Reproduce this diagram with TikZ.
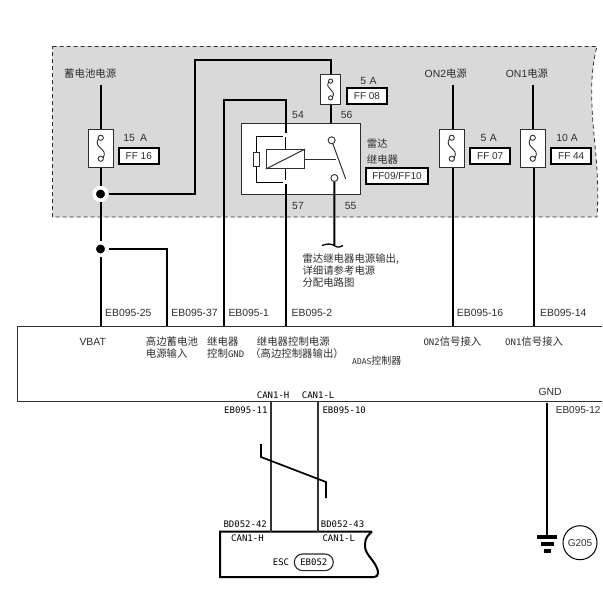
\documentclass[tikz,border=0pt]{standalone}
\usepackage{fontspec}
\setmainfont{Liberation Sans}
\setmonofont{DejaVu Sans Mono}
\newfontfamily\cjk{Noto Sans CJK SC}
\usetikzlibrary{shapes.misc}
\definecolor{panelgray}{HTML}{D9D9D9}
\definecolor{inkgray}{HTML}{2E2E2E}
\tikzset{
  x=1pt,y=-1pt,
  wire/.style={draw=black,line width=2pt},
  fuse/.style={draw=inkgray,fill=white,line width=1pt,minimum width=24.5pt,minimum height=37.5pt,inner sep=0pt},
  smallfuse/.style={fuse,minimum width=20.5pt,minimum height=30.5pt},
  tag/.style={draw=black,fill=white,line width=2pt,minimum height=16pt,inner sep=0pt,font=\fontsize{10}{10}\selectfont,text=inkgray},
  dot/.style={circle,fill=black,draw=white,line width=3.7pt,minimum size=12.6pt,inner sep=0pt},
  lab/.style={anchor=west,inner sep=0pt,text=inkgray,font=\fontsize{10.4}{10.4}\selectfont},
  mid/.style={lab,anchor=center},
  mono/.style={anchor=west,inner sep=0pt,text=black,font=\ttfamily\fontsize{9}{9}\selectfont},
  fuse s/.pic={
    \draw[draw=inkgray,line width=.9pt] (0,-10.5) circle[radius=2.6] (0,10.5) circle[radius=2.6];
    \draw[draw=inkgray,line width=.9pt] (-2.4,-9.5) .. controls (-8,0) and (8,0) .. (2.4,9.5);
  }
}
\newcommand{\zh}[1]{{\cjk #1}}
\begin{document}
\begin{tikzpicture}
\useasboundingbox (0,0) rectangle (602,607);
\fill[white] (0,0) rectangle (602,607);
% panel
\path[fill=panelgray,draw=inkgray,line width=.8pt,dash pattern=on 4pt off 3pt]
  (52.5,46.5) -- (597,46.5) .. controls (592,65) and (591,85) .. (592,105)
  .. controls (593,140) and (600,170) .. (597,217) -- (52.5,217) -- cycle;
% coordinates
\coordinate (batTop) at (100.5,85);
\coordinate (on2Top) at (453,85);
\coordinate (on1Top) at (533,85);
\coordinate (p25) at (100.5,326.5);
\coordinate (p37) at (167,326.5);
\coordinate (p1) at (223.5,326.5);
\coordinate (p57) at (285.7,326.5);
\coordinate (p16) at (452.5,326.5);
\coordinate (p14) at (533.5,326.5);
\coordinate (canH) at (270.5,401);
\coordinate (canL) at (317.5,401);
\coordinate (gndTop) at (547.3,403);
\coordinate (ec1) at (602,326.5);
\coordinate (ec2) at (17.5,326.5);
\coordinate (ec3) at (17.5,401);
\coordinate (ec4) at (602,401);
\coordinate (break) at (334.3,245);
% relay
\node[draw=inkgray,fill=white,line width=1pt,minimum width=119pt,minimum height=71pt,inner sep=0pt] (relay) at (301,159) {};
\node[draw=inkgray,line width=1pt,minimum width=38.4pt,minimum height=19pt,inner sep=0pt] (coil) at (285.5,159) {};
\draw[draw=inkgray,line width=1pt] (coil.south west) -- (coil.north east);
\node[draw=inkgray,line width=1pt,minimum width=6pt,minimum height=14.5pt,inner sep=0pt] (res) at (256.5,159.5) {};
\node[circle,draw=inkgray,line width=.9pt,minimum size=7pt,inner sep=0pt] (swA) at (331.6,140.3) {};
\node[circle,draw=inkgray,line width=.9pt,minimum size=7pt,inner sep=0pt] (swB) at (334.4,178) {};
\coordinate (armEnd) at (345.7,179);
\coordinate (armMid) at (336,159);
\draw[draw=inkgray,line width=1pt] (swA) -- (armEnd);
\draw[draw=inkgray,line width=1pt] (coil.east) -- (armMid);
\coordinate (lt) at (283,136.7);
\coordinate (lb) at (283,182);
\draw[draw=black,line width=1pt] (lt) -| (res.north);
\draw[draw=black,line width=1pt] (lb) -| (res.south);
% fuses
\node[fuse] (f16) at (100.75,148.25) {};
\pic at (f16.center) {fuse s};
\node[smallfuse] (f08) at (330.6,89.5) {};
\pic[scale=.8] at (f08.center) {fuse s};
\node[fuse] (f07) at (451.75,148.25) {};
\pic at (f07.center) {fuse s};
\node[fuse] (f44) at (532.75,148.25) {};
\pic at (f44.center) {fuse s};
% dots
\node[dot] (dA) at (100.5,194) {};
\node[dot] (dB) at (100.5,249) {};
% wires
\draw[wire] (batTop) -- (batTop |- f16.north);
\draw[wire] (f16.south -| dA) -- (dA.north);
\draw[wire] (dA.south) -- (dB.north);
\draw[wire] (dB.south) -- (p25);
\draw[wire] (dB.east) -| (p37);
\coordinate (cornerA) at (195,60);
\draw[wire] (dA.east) -| (cornerA) -| (f08.north);
\draw[wire] (f08.south) -- (f08.south |- relay.north);
\coordinate (cornerB) at (223.5,100);
\coordinate (coilGapA) at (285.7,133);
\coordinate (coilGapB) at (285.7,137);
\coordinate (coilGapC) at (285.7,180);
\coordinate (coilGapD) at (285.7,184);
\draw[wire] (p1) -- (cornerB) -| (coilGapA);
\draw[draw=black,line width=1pt] (coilGapB) -- (coilGapB |- coil.north);
\draw[draw=black,line width=1pt] (coilGapC |- coil.south) -- (coilGapC);
\draw[wire] (coilGapD) -- (p57);
\draw[wire] (swB.south) -- (break);
\draw[draw=black,line width=1.3pt] (322,245.5) .. controls (328,243) and (332,244) .. (335,246) .. controls (338,248) and (341,247) .. (343,245.5);
\draw[wire] (on2Top) -- (on2Top |- f07.north);
\draw[wire] (f07.south -| p16) -- (p16);
\draw[wire] (on1Top) -- (on1Top |- f44.north);
\draw[wire] (f44.south -| p14) -- (p14);
% ECU box
\draw[draw=inkgray,line width=1pt] (ec1) -- (ec2) -- (ec3) -- (ec4);
% ESC box
\node[rounded rectangle,draw=black!85,line width=1.1pt,minimum width=39pt,minimum height=16.7pt,inner sep=0pt,text=black,font=\ttfamily\fontsize{9}{9}\selectfont] (ebPill) at (313.8,562.3) {EB052};
\coordinate (e1) at (372,531.7);
\coordinate (e2) at (220,531.7);
\coordinate (e3) at (220,577);
\coordinate (e4) at (374,577);
\draw[draw=black,line width=2pt] (e1) -- (e2) -- (e3) -- (e4) .. controls (379,577) and (379,571) .. (376,566)
  .. controls (372,558) and (364,553) .. (365,544) .. controls (365,538) and (369,534) .. (e1);
\coordinate (hEnd) at (270.5,531.7);
\coordinate (lEnd) at (317.5,531.7);
\draw[wire,draw=black!80] (canH) -- (hEnd);
\draw[wire,draw=black!80] (canL) -- (lEnd);
\coordinate (tw1) at (261,444);
\coordinate (tw2) at (261,457);
\coordinate (tw3) at (326,482);
\coordinate (tw4) at (326,498);
\draw[wire,line width=1.7pt] (tw1) -- (tw2) -- (tw3) -- (tw4);
% ground
\node[fill=black,minimum width=20pt,minimum height=4.3pt,inner sep=0pt] (g1) at (547.3,537.2) {};
\node[fill=black,minimum width=13.3pt,minimum height=3.7pt,inner sep=0pt] (g2) at (547.3,544.2) {};
\node[fill=black,minimum width=6.7pt,minimum height=4pt,inner sep=0pt] (g3) at (547.3,550.7) {};
\draw[wire] (gndTop) -- (g1.north);
\node[circle,draw=black,line width=1pt,minimum size=34pt,inner sep=0pt,font=\fontsize{10}{10}\selectfont,text=inkgray] (g205) at (580,542.7) {G205};
% tags
\node[tag,minimum width=40.5pt] (t16) at (138.8,155.7) {FF 16};
\node[tag,minimum width=40.5pt] (t08) at (367,95.8) {FF 08};
\node[tag,minimum width=40.5pt] (t07) at (490.2,155.8) {FF 07};
\node[tag,minimum width=40.5pt] (t44) at (571.2,155.8) {FF 44};
\node[tag,minimum width=61.4pt] (t09) at (397,175.8) {FF09/FF10};
% labels
\node[lab] (l1) at (64,73.5) {\zh{蓄电池电源}};
\node[lab] (l2) at (424.5,73.5) {ON2\zh{电源}};
\node[lab] (l3) at (505.7,73.5) {ON1\zh{电源}};
\node[mid] (a15) at (135.3,138.3) {15\,\,\,A};
\node[mid] (a5a) at (368.5,80.7) {5\,\,A};
\node[mid] (a5b) at (488.8,138.3) {5\,\,A};
\node[mid] (a10) at (567,138.3) {10 A};
\node[mid] (n54) at (298,115) {54};
\node[mid] (n56) at (346.7,115) {56};
\node[mid] (n57) at (298,205.7) {57};
\node[mid] (n55) at (350.7,205.7) {55};
\node[lab] (r1) at (366.7,143.7) {\zh{雷达}};
\node[lab] (r2) at (366.7,160) {\zh{继电器}};
\node[lab] (p1a) at (302.3,258.7) {\zh{雷达继电器电源输出,}};
\node[lab] (p1b) at (302.3,270.7) {\zh{详细请参考电源}};
\node[lab] (p1c) at (302.3,282.7) {\zh{分配电路图}};
\node[lab] (c25) at (105,313.3) {EB095-25};
\node[lab] (c37) at (171.2,313.3) {EB095-37};
\node[lab] (c1) at (228.3,313.3) {EB095-1};
\node[lab] (c2) at (291.5,313.3) {EB095-2};
\node[lab] (c16) at (456.7,313.3) {EB095-16};
\node[lab] (c14) at (540,313.3) {EB095-14};
\node[lab] (v1) at (79.3,341.7) {VBAT};
\node[lab] (v2) at (145.7,341.7) {\zh{高边蓄电池}};
\node[lab] (v3) at (145.7,354) {\zh{电源输入}};
\node[lab] (v4) at (207,341.7) {\zh{继电器}};
\node[lab] (v5) at (207,354) {\zh{控制}{\ttfamily\fontsize{9}{9}\selectfont GND}};
\node[lab] (v6) at (256.7,341.7) {\zh{继电器控制电源}};
\node[lab] (v7) at (250,354) {\zh{（高边控制器输出）}};
\node[lab] (v8) at (423.3,341.7) {{\ttfamily\fontsize{9}{9}\selectfont ON2}\zh{信号接入}};
\node[lab] (v9) at (505,341.7) {{\ttfamily\fontsize{9}{9}\selectfont ON1}\zh{信号接入}};
\node[lab] (v10) at (352,360.7) {{\ttfamily\fontsize{8}{8}\selectfont ADAS}\zh{\fontsize{10}{10}\selectfont 控制器}};
\node[mono] (m1) at (256.7,395.7) {CAN1-H};
\node[mono] (m2) at (301.7,395.7) {CAN1-L};
\node[lab] (m3) at (538.3,391.5) {GND};
\node[mono] (m4) at (224,410) {EB095-11};
\node[mono] (m5) at (322.3,410) {EB095-10};
\node[lab,font=\fontsize{10}{10}\selectfont] (m6) at (555.7,410) {EB095-12};
\node[mono] (m7) at (223.3,524.3) {BD052-42};
\node[mono] (m8) at (320.7,524.3) {BD052-43};
\node[mono] (m9) at (231,538.7) {CAN1-H};
\node[mono] (m10) at (322.3,538.7) {CAN1-L};
\node[mono] (m11) at (272.7,562.3) {ESC};
\end{tikzpicture}
\end{document}
